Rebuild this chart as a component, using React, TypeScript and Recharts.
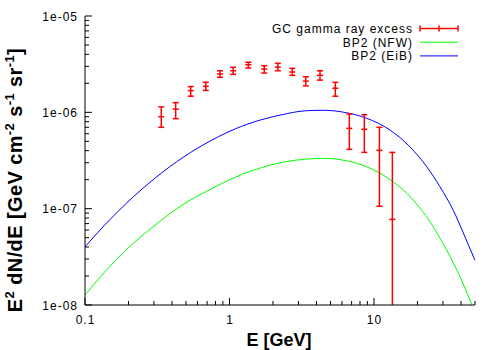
import React from "react";
import { ComposedChart, XAxis, YAxis, Line, Scatter, ErrorBar, Legend } from "recharts";

// GC gamma ray excess data points
const E_DATA = [0.337, 0.424, 0.539, 0.685, 0.859, 1.06, 1.35, 1.74, 2.16, 2.72, 3.37, 4.23, 5.4, 6.75, 8.57, 10.9, 13.4];
const FLUX = [9.0e-7, 1.08e-6, 1.68e-6, 1.86e-6, 2.5e-6, 2.7e-6, 3.12e-6, 2.82e-6, 2.95e-6, 2.62e-6, 2.11e-6, 2.42e-6, 1.78e-6, 6.82e-7, 6.66e-7, 4.03e-7, 7.74e-8];
const FLUX_HI = [1.14e-6, 1.26e-6, 1.85e-6, 2.05e-6, 2.7e-6, 2.93e-6, 3.31e-6, 3.05e-6, 3.23e-6, 2.86e-6, 2.34e-6, 2.7e-6, 2.05e-6, 9.6e-7, 9.44e-7, 6.99e-7, 3.84e-7];
const FLUX_LO = [6.99e-7, 8.59e-7, 1.47e-6, 1.69e-6, 2.31e-6, 2.48e-6, 2.88e-6, 2.56e-6, 2.7e-6, 2.42e-6, 1.88e-6, 2.16e-6, 1.47e-6, 4.13e-7, 3.84e-7, 1.06e-7, 1e-9];

// BP2 (EiB) curve
const EIB_E = [0.1, 0.1353, 0.1718, 0.218, 0.3, 0.484, 0.721, 0.992, 1.478, 2.24, 3.42, 4.46, 6.47, 8.9, 12.9, 17.7, 23.2, 28.6, 35.4, 41.5, 50];
const EIB_V = [4.02e-8, 6.64e-8, 9.58e-8, 1.345e-7, 2.03e-7, 3.46e-7, 4.96e-7, 6.31e-7, 7.95e-7, 9.35e-7, 1.04e-6, 1.05e-6, 9.9e-7, 8.67e-7, 6.55e-7, 4.39e-7, 2.72e-7, 1.69e-7, 9.6e-8, 5.6e-8, 2.9e-8];

// BP2 (NFW) curve
const NFW_E = [0.1, 0.1353, 0.218, 0.3, 0.484, 0.721, 0.992, 1.478, 2.38, 3.42, 4.46, 6.47, 8.9, 12.9, 18.7, 24.4, 31.8, 39.4, 46.2, 50];
const NFW_V = [1.27e-8, 2.16e-8, 4.43e-8, 6.6e-8, 1.12e-7, 1.56e-7, 1.98e-7, 2.52e-7, 3.05e-7, 3.27e-7, 3.33e-7, 3.14e-7, 2.72e-7, 2.01e-7, 1.23e-7, 7.31e-8, 3.72e-8, 1.96e-8, 1.12e-8, 8.4e-9];

const SERIES_NAMES = ["GC gamma ray excess", "BP2 (NFW)", "BP2 (EiB)"];
const SERIES_COLORS = ["#ff0000", "#00ff00", "#0000ff"];

const X_TICKS = [0.1, 0.2, 0.3, 0.4, 0.5, 0.6, 0.7, 0.8, 0.9, 1, 2, 3, 4, 5, 6, 7, 8, 9, 10, 20, 30, 40, 50];
const Y_TICKS = [
  1e-8, 2e-8, 3e-8, 4e-8, 5e-8, 6e-8, 7e-8, 8e-8, 9e-8,
  1e-7, 2e-7, 3e-7, 4e-7, 5e-7, 6e-7, 7e-7, 8e-7, 9e-7,
  1e-6, 2e-6, 3e-6, 4e-6, 5e-6, 6e-6, 7e-6, 8e-6, 9e-6,
  1e-5,
];
const X_LABELS: Record<string, string> = { "0.1": "0.1", "1": "1", "10": "10" };
const Y_LABELS: Record<string, string> = { "1e-8": "1e-08", "1e-7": "1e-07", "1e-6": "1e-06", "1e-5": "1e-05" };

const pointData = E_DATA.map((e, i) => ({
  x: e,
  y: FLUX[i],
  err: [FLUX[i] - FLUX_LO[i], FLUX_HI[i] - FLUX[i]],
}));
const eibData = EIB_E.map((e, i) => ({ x: e, y: EIB_V[i] }));
const nfwData = NFW_E.map((e, i) => ({ x: e, y: NFW_V[i] }));

const FONT = "'Liberation Sans', Arial, Helvetica, sans-serif";
const MAJOR = 7;
const MINOR = 4;
const TICK_FONT = 12;
const TICK_SPACING = 1;

const isDecade = (v: number) => Math.abs(Math.log10(v) - Math.round(Math.log10(v))) < 1e-6;

const BottomTick = (p: any) => {
  const v = p.payload.value;
  const major = isDecade(v);
  return (
    <g>
      <line x1={p.x} x2={p.x} y1={p.y} y2={p.y - (major ? MAJOR : MINOR)} stroke="#000" />
      {major && (
        <text x={p.x + 0.5} y={p.y + 19} textAnchor="middle" fontSize={TICK_FONT} letterSpacing={TICK_SPACING} fontFamily={FONT} fill="#000">
          {X_LABELS[String(v)]}
        </text>
      )}
    </g>
  );
};
const TopTick = (p: any) => {
  const major = isDecade(p.payload.value);
  return <line x1={p.x} x2={p.x} y1={p.y} y2={p.y + (major ? MAJOR : MINOR)} stroke="#000" />;
};
const LeftTick = (p: any) => {
  const v = p.payload.value;
  const major = isDecade(v);
  const key = "1e" + Math.round(Math.log10(v));
  return (
    <g>
      <line x1={p.x} x2={p.x + (major ? MAJOR : MINOR)} y1={p.y} y2={p.y} stroke="#000" />
      {major && (
        <text x={p.x - 7} y={p.y + 4.5} textAnchor="end" fontSize={TICK_FONT} letterSpacing={TICK_SPACING} fontFamily={FONT} fill="#000">
          {Y_LABELS[key]}
        </text>
      )}
    </g>
  );
};
const RightTick = (p: any) => {
  const major = isDecade(p.payload.value);
  return <line x1={p.x} x2={p.x - (major ? MAJOR : MINOR)} y1={p.y} y2={p.y} stroke="#000" />;
};

const Dash = (p: any) => (
  <line x1={p.cx - 3} x2={p.cx + 3} y1={p.cy} y2={p.cy} stroke="#ff0000" strokeWidth={1.5} />
);

const LegendBox = () => (
  <svg width={500} height={70} style={{ display: "block" }}>
    <defs>
      <clipPath id="plot-area-clip" clipPathUnits="userSpaceOnUse">
        <rect x={85} y={16} width={390} height={289} />
      </clipPath>
    </defs>
    {SERIES_NAMES.map((name, i) => {
      const cy = 28.5 + i * 13.7;
      return (
        <g key={name}>
          <text x={413} y={cy + 4.5} textAnchor="end" fontSize={12} letterSpacing={1} fontFamily={FONT} fill="#000">
            {name}
          </text>
          <line x1={420} x2={458} y1={cy} y2={cy} stroke={SERIES_COLORS[i]} strokeWidth={i === 0 ? 1.5 : 1} />
          {i === 0 && (
            <g stroke={SERIES_COLORS[0]} strokeWidth={1.5}>
              <line x1={420} x2={420} y1={cy - 3} y2={cy + 3} />
              <line x1={458} x2={458} y1={cy - 3} y2={cy + 3} />
              <line x1={439} x2={439} y1={cy - 3} y2={cy + 3} />
            </g>
          )}
        </g>
      );
    })}
  </svg>
);

const YLabel = () => (
  <text
    transform="translate(22,180) rotate(-90)"
    textAnchor="middle"
    fontSize={20}
    fontWeight="bold"
    letterSpacing={0.4}
    fontFamily={FONT}
    fill="#000"
  >
    E<tspan dy={-8} fontSize={13}>2</tspan>
    <tspan dy={8}> dN/dE [GeV cm</tspan>
    <tspan dy={-8} fontSize={13}>-2</tspan>
    <tspan dy={8}> s</tspan>
    <tspan dy={-8} fontSize={13}>-1</tspan>
    <tspan dy={8}> sr</tspan>
    <tspan dy={-8} fontSize={13}>-1</tspan>
    <tspan dy={8}>]</tspan>
  </text>
);

const XLabel = () => (
  <text x={279} y={346} textAnchor="middle" fontSize={18} fontWeight="bold" fontFamily={FONT} fill="#000">
    E [GeV]
  </text>
);

export default function App() {
  return (
    <div style={{ position: "absolute", left: 0, top: 0, width: 500, height: 350, background: "#fff" }}>
      <ComposedChart width={500} height={350} margin={{ top: 16, right: 25, bottom: 0, left: 0 }}>
        <XAxis
          xAxisId="b"
          dataKey="x"
          type="number"
          scale="log"
          domain={[0.1, 50]}
          allowDataOverflow
          ticks={X_TICKS}
          interval={0}
          height={45}
          tickSize={0}
          tickMargin={0}
          tickLine={false}
          axisLine={{ stroke: "#000" }}
          tick={<BottomTick />}
          label={{ content: () => <XLabel /> }}
        />
        <XAxis
          xAxisId="t"
          orientation="top"
          dataKey="x"
          type="number"
          scale="log"
          domain={[0.1, 50]}
          allowDataOverflow
          ticks={X_TICKS}
          interval={0}
          height={0}
          tickSize={0}
          tickMargin={0}
          tickLine={false}
          axisLine={{ stroke: "#000" }}
          tick={<TopTick />}
        />
        <YAxis
          yAxisId="l"
          type="number"
          scale="log"
          domain={[1e-8, 1e-5]}
          allowDataOverflow
          ticks={Y_TICKS}
          interval={0}
          width={85}
          tickSize={0}
          tickMargin={0}
          tickLine={false}
          axisLine={{ stroke: "#000" }}
          tick={<LeftTick />}
          label={{ content: () => <YLabel /> }}
        />
        <YAxis
          yAxisId="r"
          orientation="right"
          type="number"
          scale="log"
          domain={[1e-8, 1e-5]}
          allowDataOverflow
          ticks={Y_TICKS}
          interval={0}
          width={0}
          tickSize={0}
          tickMargin={0}
          tickLine={false}
          axisLine={{ stroke: "#000" }}
          tick={<RightTick />}
        />
        <Line
          xAxisId="b"
          yAxisId="l"
          data={nfwData}
          dataKey="y"
          name={SERIES_NAMES[1]}
          type="monotone"
          stroke={SERIES_COLORS[1]}
          strokeWidth={1}
          dot={false}
          isAnimationActive={false}
        />
        <Line
          xAxisId="b"
          yAxisId="l"
          data={eibData}
          dataKey="y"
          name={SERIES_NAMES[2]}
          type="monotone"
          stroke={SERIES_COLORS[2]}
          strokeWidth={1}
          dot={false}
          isAnimationActive={false}
        />
        <Scatter
          xAxisId="b"
          yAxisId="l"
          data={pointData}
          dataKey="y"
          name={SERIES_NAMES[0]}
          fill={SERIES_COLORS[0]}
          shape={<Dash />}
          isAnimationActive={false}
        >
          <ErrorBar
            dataKey="err"
            direction="y"
            width={3}
            stroke={SERIES_COLORS[0]}
            strokeWidth={1.5}
            clipPath="url(#plot-area-clip)"
            isAnimationActive={false}
          />
        </Scatter>
        <Legend
          layout="horizontal"
          verticalAlign="middle"
          align="center"
          wrapperStyle={{ position: "absolute", left: 0, top: 0, width: 500, height: 70 }}
          content={() => <LegendBox />}
        />
      </ComposedChart>
    </div>
  );
}
